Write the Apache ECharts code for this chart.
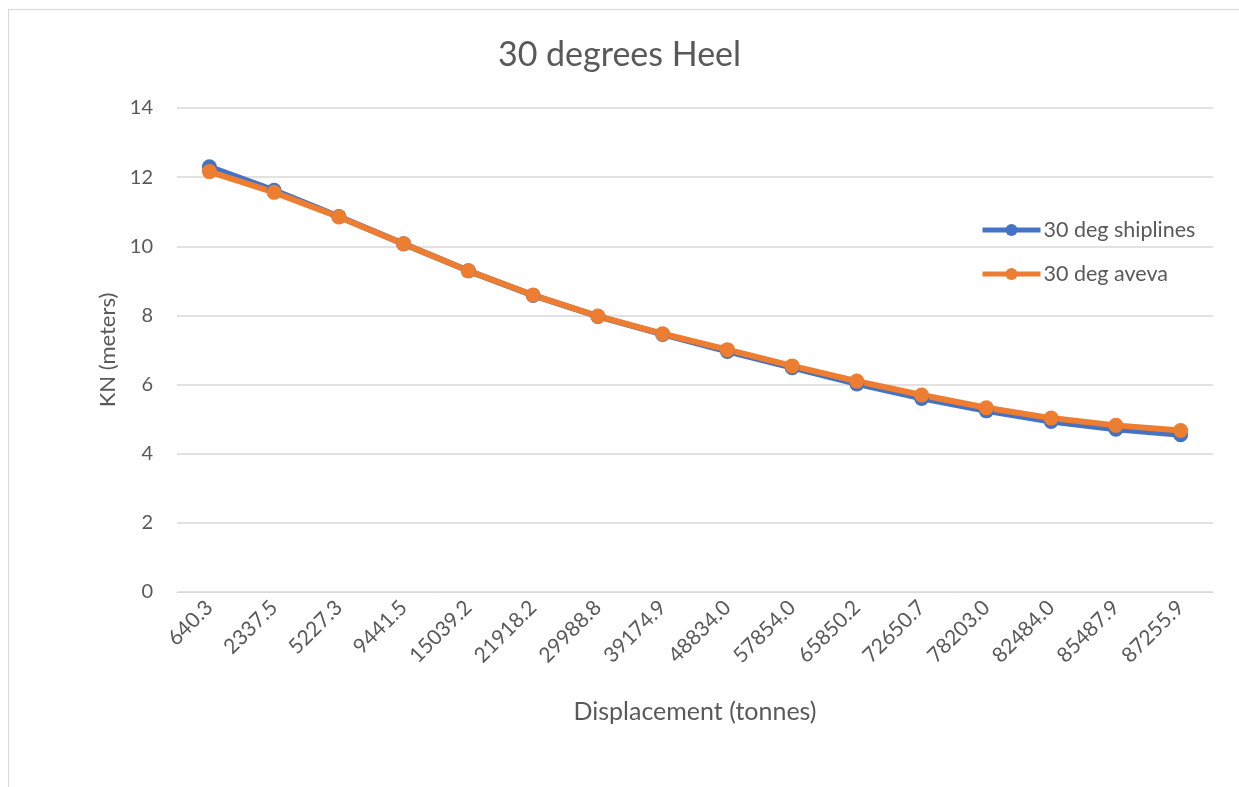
<!DOCTYPE html>
<html>
<head>
<meta charset="utf-8">
<script src="https://cdn.jsdelivr.net/npm/echarts@6/dist/echarts.min.js"></script>
<style>
  html, body { margin: 0; padding: 0; background: #fff; }
  #frame { position: absolute; left: 8px; top: 9px; width: 1260px; height: 800px; border: 1px solid #d9d9d9; box-sizing: border-box; }
  #chart { position: absolute; left: 0; top: 0; width: 1239px; height: 787px; }
</style>
</head>
<body>
<div id="frame"></div>
<div id="chart"></div>
<script>
// Displacement categories (tonnes)
const displacement = ['640.3', '2337.5', '5227.3', '9441.5', '15039.2', '21918.2', '29988.8', '39174.9',
  '48834.0', '57854.0', '65850.2', '72650.7', '78203.0', '82484.0', '85487.9', '87255.9'];
// KN values at 30 degrees heel (meters)
const shiplines = [12.30, 11.62, 10.86, 10.07, 9.29, 8.58, 7.97, 7.45, 6.96, 6.49, 6.02, 5.60, 5.24, 4.93, 4.71, 4.55];
const aveva = [12.16, 11.56, 10.85, 10.07, 9.29, 8.59, 7.98, 7.47, 7.01, 6.54, 6.10, 5.70, 5.33, 5.03, 4.82, 4.67];
const yTicks = { min: 0, max: 14, interval: 2 };

const textColor = '#595959';
const fontFamily = 'Lato, "Open Sans", sans-serif';

const chart = echarts.init(document.getElementById('chart'), null, { renderer: 'canvas' });
chart.setOption({
  animation: false,
  textStyle: { fontFamily: fontFamily },
  title: {
    text: '30 degrees Heel',
    left: 'center',
    top: 33,
    textStyle: { fontSize: 34, fontWeight: 'normal', color: textColor, fontFamily: fontFamily }
  },
  legend: {
    orient: 'vertical',
    left: 975,
    top: 214,
    itemGap: 22,
    itemWidth: 58,
    itemHeight: 15,
    lineStyle: { width: 5 },
    textStyle: { fontSize: 21.5, color: textColor, fontFamily: fontFamily, padding: [0, 0, 0, -2] },
    data: ['30 deg shiplines', '30 deg aveva']
  },
  grid: { left: 177, right: 26, top: 108, bottom: 195, containLabel: false },
  xAxis: {
    type: 'category',
    data: displacement,
    boundaryGap: true,
    name: 'Displacement (tonnes)',
    nameLocation: 'middle',
    nameGap: 107,
    nameTextStyle: { fontSize: 25, color: textColor },
    axisLine: { show: true, lineStyle: { color: '#d9d9d9', width: 1 } },
    axisTick: { show: false },
    axisLabel: { rotate: 45, fontSize: 21, color: textColor, margin: 12, interval: 0 }
  },
  yAxis: {
    type: 'value',
    min: yTicks.min,
    max: yTicks.max,
    interval: yTicks.interval,
    name: 'KN (meters)',
    nameLocation: 'middle',
    nameGap: 56,
    nameTextStyle: { fontSize: 22, color: textColor },
    axisLine: { show: false },
    axisTick: { show: false },
    axisLabel: { fontSize: 20, color: textColor, margin: 24 },
    splitLine: { lineStyle: { color: '#d9d9d9', width: 1.5 } }
  },
  series: [
    {
      name: '30 deg shiplines',
      type: 'line',
      data: shiplines,
      symbol: 'circle',
      symbolSize: 15,
      lineStyle: { width: 6, color: '#4472C4' },
      itemStyle: { color: '#4472C4' }
    },
    {
      name: '30 deg aveva',
      type: 'line',
      data: aveva,
      symbol: 'circle',
      symbolSize: 15,
      lineStyle: { width: 6, color: '#ED7D31' },
      itemStyle: { color: '#ED7D31' }
    }
  ]
});
</script>
</body>
</html>
